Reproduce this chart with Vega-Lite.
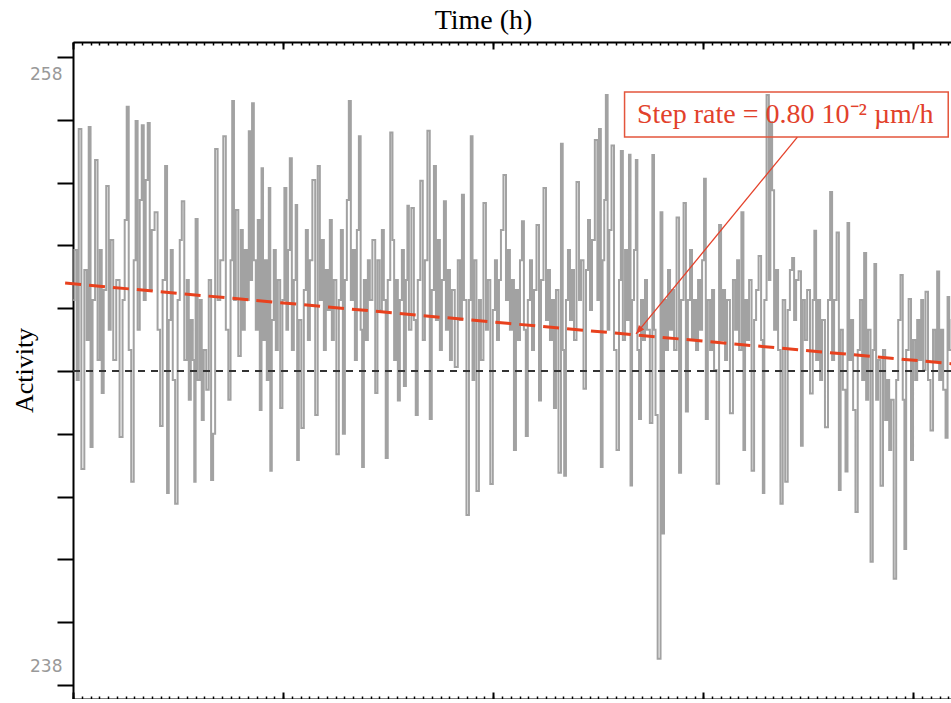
{
  "$schema": "https://vega.github.io/schema/vega-lite/v6.json",
  "autosize": "none",
  "width": 893,
  "height": 657,
  "padding": {"left": 73, "top": 42, "right": 0, "bottom": 0},
  "background": "white",
  "config": {"view": {"stroke": null}, "axis": {"grid": false}},
  "resolve": {"axis": {"x": "independent"}},
  "datasets": {
    "sig": [
      {"t":0.02,"a":250.26},{"t":0.31,"a":251.85},{"t":0.54,"a":247.71},{"t":0.77,"a":255.71},{"t":1.14,"a":244.88},{"t":1.45,"a":251.22},{"t":1.68,"a":248.99},{"t":1.91,"a":255.77},{"t":2.10,"a":245.58},{"t":2.37,"a":250.26},
      {"t":2.67,"a":254.72},{"t":2.94,"a":248.35},{"t":3.17,"a":251.85},{"t":3.39,"a":247.30},{"t":3.62,"a":250.58},{"t":3.97,"a":253.89},{"t":4.19,"a":249.31},{"t":4.42,"a":252.17},{"t":4.77,"a":248.35},{"t":5.11,"a":250.90},
      {"t":5.53,"a":245.90},{"t":5.79,"a":250.26},{"t":6.02,"a":252.81},{"t":6.25,"a":256.42},{"t":6.48,"a":248.67},{"t":6.82,"a":244.47},{"t":7.05,"a":251.53},{"t":7.25,"a":255.96},{"t":7.51,"a":249.31},{"t":7.74,"a":253.45},
      {"t":7.97,"a":255.83},{"t":8.19,"a":250.26},{"t":8.42,"a":254.08},{"t":8.65,"a":255.90},{"t":8.88,"a":250.58},{"t":9.11,"a":252.49},{"t":9.53,"a":253.06},{"t":9.79,"a":249.31},{"t":10.10,"a":246.25},{"t":10.37,"a":250.90},
      {"t":10.67,"a":254.53},{"t":10.82,"a":244.11},{"t":11.05,"a":249.62},{"t":11.28,"a":251.85},{"t":11.51,"a":247.71},{"t":11.82,"a":243.77},{"t":12.08,"a":250.26},{"t":12.31,"a":252.17},{"t":12.54,"a":253.41},{"t":12.88,"a":248.35},
      {"t":13.11,"a":250.90},{"t":13.34,"a":247.08},{"t":13.57,"a":249.62},{"t":13.79,"a":248.35},{"t":13.91,"a":244.47},{"t":14.10,"a":252.84},{"t":14.37,"a":247.71},{"t":14.59,"a":250.26},{"t":14.82,"a":246.44},{"t":15.05,"a":248.67},
      {"t":15.39,"a":247.40},{"t":15.62,"a":250.90},{"t":15.93,"a":244.53},{"t":16.08,"a":246.00},{"t":16.39,"a":255.07},{"t":16.65,"a":250.26},{"t":16.99,"a":251.53},{"t":17.34,"a":255.48},{"t":17.57,"a":249.31},{"t":17.91,"a":247.08},
      {"t":18.08,"a":251.53},{"t":18.29,"a":256.60},{"t":18.48,"a":250.26},{"t":18.71,"a":253.13},{"t":19.05,"a":248.48},{"t":19.28,"a":252.49},{"t":19.51,"a":249.31},{"t":19.74,"a":251.85},{"t":19.97,"a":250.26},{"t":20.19,"a":255.64},
      {"t":20.37,"a":250.90},{"t":20.54,"a":256.53},{"t":20.77,"a":251.53},{"t":20.99,"a":249.31},{"t":21.22,"a":252.81},{"t":21.45,"a":246.76},{"t":21.62,"a":254.46},{"t":21.79,"a":248.99},{"t":22.02,"a":251.53},{"t":22.25,"a":247.71},
      {"t":22.48,"a":253.83},{"t":22.59,"a":244.82},{"t":22.82,"a":249.62},{"t":23.05,"a":251.85},{"t":23.28,"a":248.67},{"t":23.51,"a":250.90},{"t":23.82,"a":246.82},{"t":24.02,"a":250.26},{"t":24.27,"a":253.83},{"t":24.48,"a":249.31},
      {"t":24.65,"a":251.85},{"t":24.88,"a":254.78},{"t":25.11,"a":248.67},{"t":25.34,"a":250.90},{"t":25.53,"a":253.29},{"t":25.68,"a":245.16},{"t":25.91,"a":249.62},{"t":26.25,"a":246.18},{"t":26.48,"a":250.58},{"t":26.71,"a":252.49},
      {"t":26.94,"a":248.99},{"t":27.17,"a":251.53},{"t":27.51,"a":254.08},{"t":27.82,"a":246.60},{"t":28.08,"a":254.53},{"t":28.31,"a":250.26},{"t":28.54,"a":252.17},{"t":28.77,"a":248.67},{"t":28.99,"a":251.22},{"t":29.22,"a":249.94},
      {"t":29.45,"a":252.81},{"t":29.68,"a":248.99},{"t":29.91,"a":250.90},{"t":30.25,"a":245.35},{"t":30.48,"a":250.26},{"t":30.71,"a":252.49},{"t":30.94,"a":246.00},{"t":31.17,"a":250.90},{"t":31.39,"a":253.45},{"t":31.62,"a":256.60},
      {"t":31.85,"a":250.26},{"t":32.08,"a":251.85},{"t":32.31,"a":248.35},{"t":32.54,"a":252.49},{"t":32.77,"a":255.48},{"t":32.94,"a":249.31},{"t":33.11,"a":244.94},{"t":33.34,"a":250.90},{"t":33.57,"a":248.99},{"t":33.79,"a":251.53},
      {"t":34.02,"a":250.26},{"t":34.37,"a":252.17},{"t":34.67,"a":247.30},{"t":34.88,"a":251.53},{"t":35.17,"a":249.94},{"t":35.39,"a":252.49},{"t":35.62,"a":250.26},{"t":35.82,"a":245.23},{"t":36.08,"a":250.90},{"t":36.39,"a":255.60},
      {"t":36.59,"a":252.17},{"t":36.77,"a":248.35},{"t":36.99,"a":250.90},{"t":37.22,"a":247.06},{"t":37.45,"a":250.26},{"t":37.68,"a":251.85},{"t":37.91,"a":247.52},{"t":38.14,"a":250.90},{"t":38.25,"a":253.26},{"t":38.48,"a":249.31},
      {"t":38.82,"a":253.19},{"t":39.05,"a":249.62},{"t":39.25,"a":246.60},{"t":39.51,"a":250.90},{"t":39.82,"a":254.06},{"t":40.08,"a":248.99},{"t":40.31,"a":251.53},{"t":40.65,"a":255.65},{"t":40.85,"a":246.47},{"t":41.11,"a":250.58},
      {"t":41.34,"a":254.53},{"t":41.57,"a":249.62},{"t":41.79,"a":252.17},{"t":42.02,"a":248.67},{"t":42.25,"a":250.90},{"t":42.48,"a":253.41},{"t":42.71,"a":249.31},{"t":42.94,"a":251.22},{"t":43.17,"a":248.35},{"t":43.39,"a":250.58},
      {"t":43.82,"a":248.13},{"t":44.08,"a":251.53},{"t":44.31,"a":249.62},{"t":44.54,"a":253.61},{"t":44.77,"a":250.26},{"t":45.11,"a":243.41},{"t":45.34,"a":250.26},{"t":45.53,"a":255.48},{"t":45.74,"a":247.71},{"t":45.91,"a":251.53},
      {"t":46.25,"a":244.18},{"t":46.48,"a":250.26},{"t":46.71,"a":248.35},{"t":47.05,"a":253.35},{"t":47.28,"a":249.31},{"t":47.51,"a":250.90},{"t":47.82,"a":244.40},{"t":48.08,"a":249.94},{"t":48.31,"a":251.53},{"t":48.54,"a":248.99},
      {"t":48.77,"a":250.90},{"t":48.99,"a":252.49},{"t":49.34,"a":254.24},{"t":49.57,"a":250.26},{"t":49.79,"a":251.85},{"t":50.02,"a":249.31},{"t":50.25,"a":250.90},{"t":50.48,"a":245.48},{"t":50.71,"a":250.58},{"t":50.94,"a":248.99},
      {"t":51.17,"a":251.53},{"t":51.39,"a":252.77},{"t":51.62,"a":249.31},{"t":51.82,"a":245.93},{"t":52.08,"a":250.26},{"t":52.31,"a":251.53},{"t":52.54,"a":248.67},{"t":52.77,"a":250.58},{"t":53.11,"a":252.65},{"t":53.34,"a":247.06},
      {"t":53.57,"a":250.90},{"t":53.91,"a":253.83},{"t":54.14,"a":249.62},{"t":54.37,"a":251.22},{"t":54.59,"a":248.99},{"t":54.82,"a":250.26},{"t":55.05,"a":246.82},{"t":55.28,"a":250.58},{"t":55.62,"a":244.76},{"t":55.85,"a":255.24},
      {"t":56.02,"a":248.67},{"t":56.19,"a":244.66},{"t":56.42,"a":250.26},{"t":56.65,"a":251.85},{"t":56.88,"a":249.62},{"t":57.11,"a":251.22},{"t":57.34,"a":248.99},{"t":57.68,"a":254.02},{"t":57.91,"a":250.26},{"t":58.14,"a":251.53},
      {"t":58.48,"a":247.43},{"t":58.71,"a":251.22},{"t":58.94,"a":252.81},{"t":59.17,"a":249.94},{"t":59.39,"a":252.17},{"t":59.82,"a":255.36},{"t":59.97,"a":250.26},{"t":60.19,"a":255.71},{"t":60.39,"a":244.94},{"t":60.59,"a":251.53},
      {"t":60.77,"a":253.45},{"t":60.96,"a":256.79},{"t":61.17,"a":249.31},{"t":61.34,"a":252.49},{"t":61.68,"a":255.18},{"t":61.91,"a":248.67},{"t":62.25,"a":245.48},{"t":62.48,"a":250.90},{"t":62.67,"a":255.01},{"t":62.94,"a":248.99},
      {"t":63.17,"a":251.85},{"t":63.39,"a":249.62},{"t":63.62,"a":254.89},{"t":63.74,"a":244.35},{"t":63.97,"a":250.26},{"t":64.19,"a":251.85},{"t":64.39,"a":254.72},{"t":64.54,"a":248.67},{"t":64.77,"a":246.47},{"t":64.99,"a":250.26},
      {"t":65.22,"a":248.99},{"t":65.45,"a":250.90},{"t":65.68,"a":249.31},{"t":66.10,"a":246.34},{"t":66.25,"a":254.88},{"t":66.48,"a":249.31},{"t":66.59,"a":246.60},{"t":66.97,"a":238.83},{"t":67.25,"a":253.06},{"t":67.39,"a":242.82},
      {"t":67.62,"a":250.26},{"t":67.85,"a":248.67},{"t":68.08,"a":251.22},{"t":68.31,"a":249.31},{"t":68.54,"a":250.58},{"t":68.77,"a":248.67},{"t":69.11,"a":252.89},{"t":69.34,"a":244.76},{"t":69.57,"a":250.26},{"t":69.91,"a":253.35},
      {"t":70.10,"a":246.71},{"t":70.37,"a":250.26},{"t":70.59,"a":251.85},{"t":70.82,"a":248.99},{"t":71.05,"a":250.26},{"t":71.28,"a":248.67},{"t":71.51,"a":250.90},{"t":71.74,"a":249.31},{"t":71.97,"a":251.53},{"t":72.19,"a":254.12},
      {"t":72.37,"a":246.47},{"t":72.65,"a":250.26},{"t":72.88,"a":248.67},{"t":73.11,"a":250.58},{"t":73.34,"a":248.03},{"t":73.68,"a":244.41},{"t":73.91,"a":252.65},{"t":74.14,"a":248.99},{"t":74.37,"a":250.58},{"t":74.59,"a":248.35},
      {"t":74.82,"a":250.26},{"t":75.25,"a":246.65},{"t":75.51,"a":250.90},{"t":75.74,"a":249.31},{"t":75.97,"a":251.53},{"t":76.19,"a":248.67},{"t":76.50,"a":253.06},{"t":76.65,"a":245.48},{"t":76.88,"a":250.26},{"t":77.11,"a":248.99},
      {"t":77.34,"a":250.90},{"t":77.68,"a":244.82},{"t":77.91,"a":249.62},{"t":78.14,"a":250.58},{"t":78.48,"a":251.66},{"t":78.71,"a":248.99},{"t":78.88,"a":244.11},{"t":79.05,"a":250.26},{"t":79.39,"a":256.79},{"t":79.57,"a":250.90},
      {"t":79.74,"a":255.93},{"t":79.97,"a":253.76},{"t":80.19,"a":249.31},{"t":80.42,"a":251.22},{"t":80.65,"a":248.67},{"t":80.96,"a":243.77},{"t":81.17,"a":250.26},{"t":81.53,"a":244.47},{"t":81.74,"a":249.94},{"t":82.03,"a":251.22},
      {"t":82.25,"a":251.60},{"t":82.48,"a":249.62},{"t":82.71,"a":250.90},{"t":83.05,"a":251.18},{"t":83.25,"a":245.62},{"t":83.45,"a":250.26},{"t":83.74,"a":248.99},{"t":83.97,"a":250.58},{"t":84.39,"a":247.28},{"t":84.59,"a":250.26},
      {"t":84.77,"a":252.47},{"t":84.99,"a":248.35},{"t":85.22,"a":250.26},{"t":85.45,"a":247.71},{"t":85.68,"a":249.62},{"t":86.10,"a":246.21},{"t":86.37,"a":250.26},{"t":86.59,"a":253.70},{"t":86.82,"a":248.35},{"t":87.05,"a":250.26},
      {"t":87.39,"a":252.41},{"t":87.57,"a":244.21},{"t":87.79,"a":249.31},{"t":88.08,"a":247.40},{"t":88.39,"a":244.80},{"t":88.54,"a":252.71},{"t":88.77,"a":248.35},{"t":88.99,"a":249.62},{"t":89.22,"a":246.76},{"t":89.53,"a":243.51},
      {"t":89.74,"a":248.67},{"t":90.03,"a":250.26},{"t":90.25,"a":247.71},{"t":90.48,"a":251.76},{"t":90.71,"a":247.08},{"t":90.94,"a":249.31},{"t":91.25,"a":241.92},{"t":91.45,"a":248.67},{"t":91.62,"a":251.41},{"t":91.85,"a":247.08},
      {"t":92.08,"a":248.35},{"t":92.39,"a":244.34},{"t":92.65,"a":248.67},{"t":92.88,"a":246.44},{"t":93.11,"a":247.71},{"t":93.34,"a":245.48},{"t":93.57,"a":247.08},{"t":93.91,"a":241.38},{"t":94.14,"a":247.71},{"t":94.37,"a":249.62},
      {"t":94.67,"a":251.06},{"t":94.88,"a":247.08},{"t":95.05,"a":242.33},{"t":95.28,"a":248.67},{"t":95.62,"a":250.29},{"t":95.82,"a":245.16},{"t":96.08,"a":248.99},{"t":96.31,"a":247.71},{"t":96.54,"a":249.62},{"t":96.77,"a":248.35},
      {"t":96.99,"a":250.26},{"t":97.22,"a":248.03},{"t":97.53,"a":250.52},{"t":97.79,"a":247.71},{"t":98.10,"a":246.10},{"t":98.37,"a":249.31},{"t":98.59,"a":248.35},{"t":98.82,"a":251.17},{"t":99.05,"a":247.71},{"t":99.28,"a":249.31},
      {"t":99.51,"a":247.40},{"t":99.82,"a":245.87},{"t":99.97,"a":250.36},{"t":100.19,"a":248.67},{"t":100.53,"a":249.62},{"t":100.87,"a":248.03}
    ],
    "baseline": [{"t": 0, "a": 248}, {"t": 102, "a": 248}],
    "trend": [{"t": -0.9, "a": 250.80}, {"t": 102, "a": 248.19}],
    "box": [{"t1": 63.0, "t2": 99.97, "a1": 256.89, "a2": 255.45}],
    "note": [{"t": 64.42, "a": 256.15, "label": "Step rate = 0.80 10⁻² µm/h"}],
    "arrow": [{"t1": 82.74, "a1": 255.45, "t2": 64.31, "a2": 249.18}]
  },
  "layer": [
    {
      "data": {"name": "sig"},
      "mark": {"type": "line", "interpolate": "step", "stroke": "#a2a2a2", "strokeWidth": 2},
      "encoding": {
        "x": {"field": "t", "type": "quantitative", "scale": {"domain": [0, 102], "nice": false, "zero": false},
          "axis": {"orient": "bottom", "title": null, "labels": false, "values": [0,1,2,3,4,5,6,7,8,9,10,11,12,13,14,15,16,17,18,19,20,21,22,23,24,25,26,27,28,29,30,31,32,33,34,35,36,37,38,39,40,41,42,43,44,45,46,47,48,49,50,51,52,53,54,55,56,57,58,59,60,61,62,63,64,65,66,67,68,69,70,71,72,73,74,75,76,77,78,79,80,81,82,83,84,85,86,87,88,89,90,91,92,93,94,95,96,97,98,99,100,101,102],
            "tickSize": -3, "tickWidth": 1.5, "tickColor": "black", "domainColor": "black", "domainWidth": 2}},
        "y": {"field": "a", "type": "quantitative", "scale": {"domain": [237.55, 258.48], "nice": false, "zero": false},
          "axis": {"orient": "left", "values": [238,240,242,244,246,248,250,252,254,256,258],
            "labelExpr": "datum.value == 238 || datum.value == 258 ? datum.label : ''",
            "labelOverlap": false, "labelFont": "DejaVu Sans", "labelFontSize": 17, "labelColor": "#999999",
            "labelPadding": -5, "labelFlush": 20, "labelFlushOffset": -9,
            "tickSize": 16, "tickWidth": 2, "tickColor": "black", "domain": true, "domainColor": "black", "domainWidth": 2,
            "title": "Activity", "titleFont": "Liberation Serif", "titleFontSize": 26, "titleFontWeight": "normal", "titleColor": "black",
            "titleX": -49, "titleY": 328, "titleAngle": -90, "titleAlign": "center", "titleBaseline": "middle"}}
      }
    },
    {
      "data": {"name": "baseline"},
      "mark": {"type": "line", "stroke": "#333333", "strokeWidth": 2, "strokeDash": [7, 6]},
      "encoding": {
        "x": {"field": "t", "type": "quantitative", "scale": {"domain": [0, 102], "nice": false, "zero": false},
          "axis": {"orient": "top", "labels": false, "values": [0,1,2,3,4,5,6,7,8,9,10,11,12,13,14,15,16,17,18,19,20,21,22,23,24,25,26,27,28,29,30,31,32,33,34,35,36,37,38,39,40,41,42,43,44,45,46,47,48,49,50,51,52,53,54,55,56,57,58,59,60,61,62,63,64,65,66,67,68,69,70,71,72,73,74,75,76,77,78,79,80,81,82,83,84,85,86,87,88,89,90,91,92,93,94,95,96,97,98,99,100,101,102],
            "tickSize": -3, "tickWidth": 1.5, "tickColor": "black", "domainColor": "black", "domainWidth": 2,
            "title": "Time (h)", "titleFont": "Liberation Serif", "titleFontSize": 28, "titleFontWeight": "normal", "titleColor": "black",
            "titleX": 410, "titleY": -22, "titleAlign": "center", "titleBaseline": "middle"}},
        "y": {"field": "a", "type": "quantitative", "scale": {"domain": [237.55, 258.48], "nice": false, "zero": false}}
      }
    },
    {
      "data": {"name": "trend"},
      "mark": {"type": "line", "stroke": "#e8411e", "strokeWidth": 3, "strokeDash": [16, 8], "clip": false},
      "encoding": {
        "x": {"field": "t", "type": "quantitative", "scale": {"domain": [0, 102], "nice": false, "zero": false},
          "axis": {"orient": "bottom", "title": null, "labels": false, "domain": false, "values": [0, 24, 48, 72, 96], "tickSize": -7, "tickWidth": 2, "tickColor": "black"}},
        "y": {"field": "a", "type": "quantitative", "scale": {"domain": [237.55, 258.48], "nice": false, "zero": false}}
      }
    },
    {
      "data": {"name": "box"},
      "mark": {"type": "rect", "fillOpacity": 0, "stroke": "#e4553c", "strokeWidth": 1.5},
      "encoding": {
        "x": {"field": "t1", "type": "quantitative", "scale": {"domain": [0, 102], "nice": false, "zero": false},
          "axis": {"orient": "top", "title": null, "labels": false, "domain": false, "values": [0, 24, 48, 72, 96], "tickSize": -7, "tickWidth": 2, "tickColor": "black"}},
        "x2": {"field": "t2"},
        "y": {"field": "a1", "type": "quantitative", "scale": {"domain": [237.55, 258.48], "nice": false, "zero": false}},
        "y2": {"field": "a2"}
      }
    },
    {
      "data": {"name": "arrow"},
      "mark": {"type": "rule", "stroke": "#e4412a", "strokeWidth": 1.3},
      "encoding": {
        "x": {"field": "t1", "type": "quantitative", "axis": null, "scale": {"domain": [0, 102], "nice": false, "zero": false}},
        "x2": {"field": "t2"},
        "y": {"field": "a1", "type": "quantitative", "scale": {"domain": [237.55, 258.48], "nice": false, "zero": false}},
        "y2": {"field": "a2"}
      }
    },
    {
      "data": {"name": "arrow"},
      "mark": {"type": "point", "shape": "M0,0L-0.4,1L0.4,1Z", "filled": true, "fill": "#e4412a", "stroke": null, "opacity": 1, "size": 300, "angle": 219.6},
      "encoding": {
        "x": {"field": "t2", "type": "quantitative", "axis": null, "scale": {"domain": [0, 102], "nice": false, "zero": false}},
        "y": {"field": "a2", "type": "quantitative", "scale": {"domain": [237.55, 258.48], "nice": false, "zero": false}}
      }
    },
    {
      "data": {"name": "note"},
      "mark": {"type": "text", "align": "left", "baseline": "middle", "font": "Liberation Serif", "fontSize": 28, "fill": "#e2412b"},
      "encoding": {
        "x": {"field": "t", "type": "quantitative", "axis": null, "scale": {"domain": [0, 102], "nice": false, "zero": false}},
        "y": {"field": "a", "type": "quantitative", "scale": {"domain": [237.55, 258.48], "nice": false, "zero": false}},
        "text": {"field": "label"}
      }
    }
  ]
}
